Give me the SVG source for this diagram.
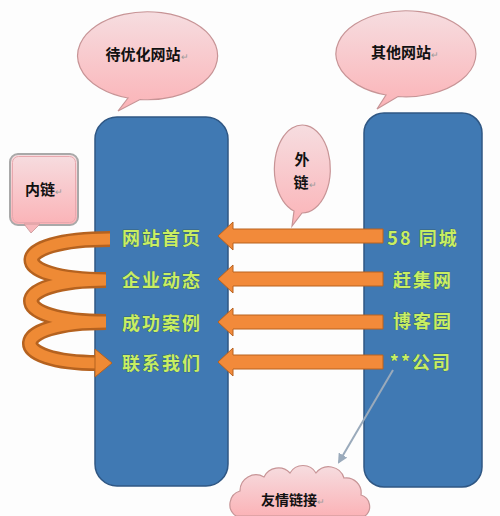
<svg xmlns="http://www.w3.org/2000/svg" width="500" height="516" viewBox="0 0 500 516">
<defs>
<linearGradient id="pink" x1="0" y1="0" x2="0" y2="1">
<stop offset="0" stop-color="#f6dde0"/>
<stop offset="1" stop-color="#fbb3b7"/>
</linearGradient>
<marker id="ah" viewBox="0 0 10 10" refX="8" refY="5" markerWidth="5" markerHeight="5" orient="auto">
<path d="M0,0 L10,5 L0,10 Z" fill="#9aaabb"/>
</marker>
</defs>
<style>
.bub{fill:url(#pink);stroke:#c79496;stroke-width:1.2}
.box{fill:#4079b3;stroke:#2f5784;stroke-width:1.5}
.blk{font-family:"Noto Sans CJK SC",sans-serif;font-weight:bold;fill:#111;text-anchor:middle}
.lbl{font-family:"Noto Sans CJK SC",sans-serif;font-weight:bold;font-size:18px;fill:#c8ee62;text-anchor:middle;letter-spacing:2px;stroke:#2d4a30;stroke-width:0.4;paint-order:stroke}
.arr{fill:#f28a3a;stroke:#b9621f;stroke-width:1}
.pm{fill:#999;font-size:9px;font-weight:normal}
</style>
<rect width="500" height="516" fill="#fdfdfd"/>

<g id="box-left"><rect class="box" x="95" y="117" width="133" height="369" rx="22"/></g>
<g id="box-right"><rect class="box" x="364" y="113" width="118" height="374" rx="20"/></g>

<g id="bubble-left">
<path class="bub" d="M128,98 A70,44 0 1 1 140,99.5 L118,111 Z"/>
<text class="blk" x="147" y="60" font-size="15">待优化网站<tspan class="pm">↵</tspan></text>
</g>
<g id="bubble-right">
<path class="bub" d="M386,95 A70,43 0 1 1 398,96.5 L377,109 Z"/>
<text class="blk" x="405" y="58" font-size="15">其他网站<tspan class="pm">↵</tspan></text>
</g>
<g id="bubble-wailian">
<path class="bub" d="M294,211 A28,44 0 1 1 302,213 L292,226 Z"/>
<text class="blk" x="302" y="165" font-size="15">外</text>
<text class="blk" x="305" y="188" font-size="15">链<tspan class="pm">↵</tspan></text>
</g>
<g id="callout-neilian">
<rect x="10" y="154" width="68" height="71" rx="8" fill="url(#pink)" stroke="#a9a9a9" stroke-width="2"/>
<rect x="12.5" y="156.5" width="63" height="66" rx="6" fill="none" stroke="#e8a8ae" stroke-width="1"/>
<path d="M24,224 L31,233 L40,224 Z" fill="#f8b8bc" stroke="#c79496" stroke-width="0.8"/>
<text class="blk" x="44" y="195" font-size="15">内链<tspan class="pm">↵</tspan></text>
</g>
<g id="cloud-youqing">
<path class="bub" d="M236,516 A14,14 0 0 1 240,491 A16,16 0 0 1 264,477 A16,16 0 0 1 290,473 A15,15 0 0 1 316,473 A16,16 0 0 1 344,478 A15,15 0 0 1 361,495 A12,12 0 0 1 365,516 Z"/>
<text class="blk" x="293" y="505" font-size="14" font-weight="normal">友情链接<tspan class="pm">↵</tspan></text>
</g>

<g id="connectors">
<g id="spiral">
<path d="M110,239 C6,239 6,280 106,280 C6,280 6,322 106,322 C6,322 6,363 98,363" fill="none" stroke="#b5621f" stroke-width="16"/>
<path d="M110,239 C6,239 6,280 106,280 C6,280 6,322 106,322 C6,322 6,363 98,363" fill="none" stroke="#ee8a35" stroke-width="11"/>
<path d="M95,349 L112,363 L95,377 Z" fill="#ee8a35" stroke="#b5621f" stroke-width="1"/>
</g>
<path class="arr" d="M383,229 L233,229 L233,222 L218,236 L233,250 L233,243 L383,243 Z"/>
<path class="arr" d="M383,272 L233,272 L233,265 L218,279 L233,293 L233,286 L383,286 Z"/>
<path class="arr" d="M383,315 L233,315 L233,308 L218,322 L233,336 L233,329 L383,329 Z"/>
<path class="arr" d="M383,355 L233,355 L233,348 L218,362 L233,376 L233,369 L383,369 Z"/>
<line x1="393" y1="370" x2="339" y2="462" stroke="#9aaabb" stroke-width="2" marker-end="url(#ah)"/>
</g>

<g id="labels-left">
<text class="lbl" x="162" y="245">网站首页</text>
<text class="lbl" x="162" y="287">企业动态</text>
<text class="lbl" x="162" y="330">成功案例</text>
<text class="lbl" x="162" y="370">联系我们</text>
</g>
<g id="labels-right">
<text class="lbl" x="423" y="245">58 同城</text>
<text class="lbl" x="423" y="287">赶集网</text>
<text class="lbl" x="423" y="328">博客园</text>
<text class="lbl" x="421" y="369">**公司</text>
</g>
</svg>
